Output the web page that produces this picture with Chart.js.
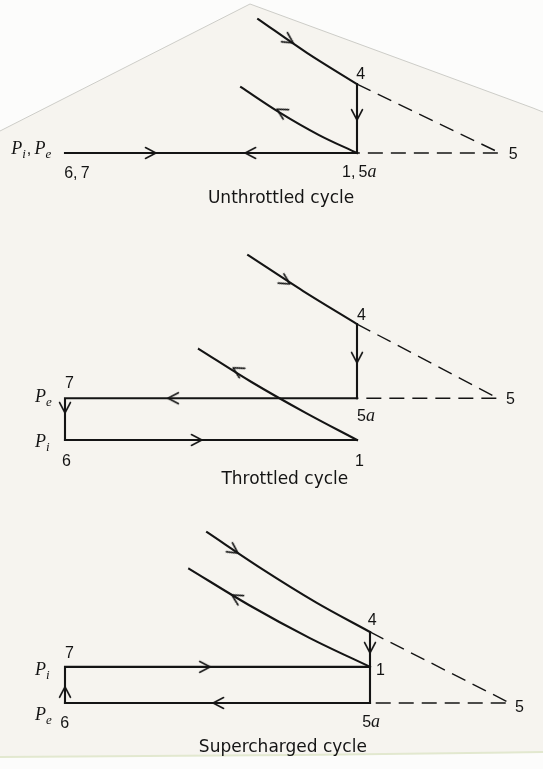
<!DOCTYPE html>
<html><head><meta charset="utf-8">
<script src="https://cdn.jsdelivr.net/npm/chart.js@4.4.1/dist/chart.umd.min.js"></script>
<style>
html,body{margin:0;padding:0;background:#fcfcfb;}
#page{position:relative;width:543px;height:769px;overflow:hidden;}
#paper{position:absolute;left:0;top:0;}
canvas{position:absolute;left:0;}
</style></head><body>
<div id="page">
<svg id="paper" width="543" height="769">
<polygon points="0,131 250,4 533,108 543,112 543,752 0,757" fill="#f6f4ef"/>
<polyline points="0,131 250,4 533,108 543,112" fill="none" stroke="#cdcdc8" stroke-width="1"/>
<polyline points="0,757 300,755 543,752" fill="none" stroke="#e2e8cf" stroke-width="2"/>
</svg>
<canvas id="c1" width="543" height="230" style="top:0px"></canvas>
<canvas id="c2" width="543" height="260" style="top:230px"></canvas>
<canvas id="c3" width="543" height="279" style="top:490px"></canvas>
</div>
<script>
// ===== DATA (V = volume, P = pressure, arbitrary units; Vc = 1, V1 = 8) =====
// Unthrottled cycle
const u_expV = [5.63, 6.80, 8.00], u_expP = [4.21, 3.40, 2.65];
const u_blowV = [8.00, 8.00], u_blowP = [2.65, 1.00];
const u_compV = [5.22, 6.13, 7.09, 8.00], u_compP = [2.58, 1.98, 1.43, 1.00];
const u_pumpV = [1.00, 8.00], u_pumpP = [1.00, 1.00];
const u_idealV = [8.00, 11.43, 8.00], u_idealP = [2.65, 1.00, 1.00];
const u_arrowV = [6.47, 8.00, 6.08, 3.18, 5.32], u_arrowP = [3.64, 1.79, 2.05, 1.00, 1.00];
const u_arrowDeg = [33, 90, -150, 0, 180];
const u_labels = ['4', '5', '1,\u20095a', '6,\u20097', 'P_i,\u2009P_e'];
const u_labelV = [7.98, 11.64, 7.64, 0.98, -0.29], u_labelP = [2.77, 0.86, 0.42, 0.40, 0.98];
const u_caption = 'Unthrottled cycle', u_captionV = 6.18, u_captionP = -0.20;

// Throttled cycle
const t_expV = [5.39, 6.71, 8.00], t_expP = [5.43, 4.57, 3.78];
const t_blowV = [8.00, 8.00], t_blowP = [3.78, 2.00];
const t_exhV = [8.00, 1.00, 1.00], t_exhP = [2.00, 2.00, 1.00];
const t_intV = [1.00, 8.00], t_intP = [1.00, 1.00];
const t_compV = [4.21, 5.47, 6.77, 8.00], t_compP = [3.18, 2.39, 1.65, 1.00];
const t_idealV = [8.00, 11.38, 8.00], t_idealP = [3.78, 2.00, 2.00];
const t_arrowV = [6.39, 8.00, 3.47, 1.00, 4.28, 5.03], t_arrowP = [4.74, 2.85, 2.00, 1.65, 1.00, 2.73];
const t_arrowDeg = [32, 90, 180, 90, 0, -150];
const t_labels = ['4', '7', 'P_e', 'P_i', '6', '5a', '1', '5'];
const t_labelV = [8.00, 1.00, 0.28, 0.28, 0.93, 8.00, 7.95, 11.57], t_labelP = [3.88, 2.25, 1.91, 0.83, 0.38, 1.46, 0.38, 1.86];
const t_caption = 'Throttled cycle', t_captionV = 6.27, t_captionP = -0.05;

// Supercharged cycle
const s_expV = [4.26, 5.50, 6.76, 8.00], s_expP = [4.92, 4.09, 3.31, 2.63];
const s_blowV = [8.00, 8.00], s_blowP = [2.63, 1.00];
const s_exhV = [8.00, 1.00], s_exhP = [1.00, 1.00];
const s_intV = [1.00, 1.00, 8.00], s_intP = [1.00, 1.83, 1.83];
const s_compV = [3.85, 5.22, 6.62, 8.00], s_compP = [4.08, 3.25, 2.49, 1.83];
const s_idealV = [8.00, 11.21, 8.00], s_idealP = [2.63, 1.00, 1.00];
const s_arrowV = [4.97, 8.00, 4.83, 4.33, 4.40, 1.00], s_arrowP = [4.44, 2.15, 3.48, 1.83, 1.00, 1.37];
const s_arrowDeg = [34, 90, -149, 0, 180, -90];
const s_labels = ['4', '1', '5a', '5', '7', 'P_i', 'P_e', '6'];
const s_labelV = [7.95, 8.14, 7.82, 11.33, 1.00, 0.31, 0.31, 0.89], s_labelP = [2.79, 1.64, 0.45, 0.79, 2.03, 1.64, 0.61, 0.43];
const s_caption = 'Supercharged cycle', s_captionV = 6.00, s_captionP = -0.12;

// ===== STYLE / LAYOUT =====
const INK = '#141414';
const zip = (a, b) => a.map((v, i) => ({x: v, y: b[i]}));

const arrowImg = document.createElement('canvas');
arrowImg.width = 26; arrowImg.height = 26;
(function () {
  const g = arrowImg.getContext('2d');
  g.strokeStyle = INK; g.lineWidth = 1.5; g.lineCap = 'round'; g.lineJoin = 'round';
  g.beginPath(); g.moveTo(2.5, 7.5); g.lineTo(13, 13); g.lineTo(2.5, 18.5); g.stroke();
})();

function drawRich(ctx, str, x, y) {
  let cx = x;
  for (let i = 0; i < str.length; i++) {
    const ch = str[i];
    if (ch === '_') {
      const s = str[i + 1];
      ctx.font = 'italic 13px "Liberation Serif"';
      ctx.fillText(s, cx, y + 4);
      cx += ctx.measureText(s).width + 1;
      i++;
      continue;
    }
    if (ch === 'P' || ch === 'a') ctx.font = 'italic 18px "Liberation Serif"';
    else ctx.font = '16px "Liberation Sans"';
    ctx.fillText(ch, cx, y);
    cx += ctx.measureText(ch).width;
  }
}

function labelPlugin(labels, lv, lp, caption, cv, cp) {
  return {
    id: 'cycleLabels',
    afterDatasetsDraw(chart) {
      const ctx = chart.ctx, sx = chart.scales.x, sy = chart.scales.y;
      ctx.save();
      ctx.fillStyle = INK;
      ctx.textBaseline = 'alphabetic';
      ctx.textAlign = 'left';
      labels.forEach((t, i) => drawRich(ctx, t, sx.getPixelForValue(lv[i]), sy.getPixelForValue(lp[i])));
      ctx.font = '17px "DejaVu Sans"';
      ctx.textAlign = 'center';
      ctx.fillText(caption, sx.getPixelForValue(cv), sy.getPixelForValue(cp));
      ctx.restore();
    }
  };
}

function solid(v, p, curved) {
  return {data: zip(v, p), showLine: true, pointRadius: 0, borderColor: INK, borderWidth: 2.1,
    borderCapStyle: 'square', cubicInterpolationMode: curved ? 'monotone' : 'default', tension: 0};
}
function dashed(v, p) {
  return {data: zip(v, p), showLine: true, pointRadius: 0, borderColor: INK, borderWidth: 1.4,
    borderDash: [15, 8], tension: 0};
}
function arrows(v, p, deg) {
  return {data: zip(v, p), showLine: false, pointRadius: 6, pointStyle: arrowImg, pointRotation: deg};
}

function makeChart(id, height, k, originYpx, datasets, plugin) {
  const xMin = 1 - 65 / k, xMax = 1 + (543 - 65) / k;
  const yMax = 1 + originYpx / k, yMin = 1 - (height - originYpx) / k;
  return new Chart(document.getElementById(id), {
    type: 'scatter',
    data: {datasets},
    options: {
      responsive: false, animation: false, devicePixelRatio: 1, events: [],
      layout: {padding: 0, autoPadding: false},
      plugins: {legend: {display: false}, tooltip: {enabled: false}},
      scales: {
        x: {type: 'linear', min: xMin, max: xMax, display: false},
        y: {type: 'linear', min: yMin, max: yMax, display: false}
      }
    },
    plugins: [plugin]
  });
}

makeChart('c1', 230, 41.714, 153, [
  solid(u_expV, u_expP, true), solid(u_blowV, u_blowP), solid(u_compV, u_compP, true),
  solid(u_pumpV, u_pumpP), dashed(u_idealV, u_idealP), arrows(u_arrowV, u_arrowP, u_arrowDeg)
], labelPlugin(u_labels, u_labelV, u_labelP, u_caption, u_captionV, u_captionP));

makeChart('c2', 260, 41.714, 210, [
  solid(t_expV, t_expP, true), solid(t_blowV, t_blowP), solid(t_exhV, t_exhP),
  solid(t_intV, t_intP), solid(t_compV, t_compP, true), dashed(t_idealV, t_idealP),
  arrows(t_arrowV, t_arrowP, t_arrowDeg)
], labelPlugin(t_labels, t_labelV, t_labelP, t_caption, t_captionV, t_captionP));

makeChart('c3', 279, 43.571, 213, [
  solid(s_expV, s_expP, true), solid(s_blowV, s_blowP), solid(s_exhV, s_exhP),
  solid(s_intV, s_intP), solid(s_compV, s_compP, true), dashed(s_idealV, s_idealP),
  arrows(s_arrowV, s_arrowP, s_arrowDeg)
], labelPlugin(s_labels, s_labelV, s_labelP, s_caption, s_captionV, s_captionP));
</script>
</body></html>
